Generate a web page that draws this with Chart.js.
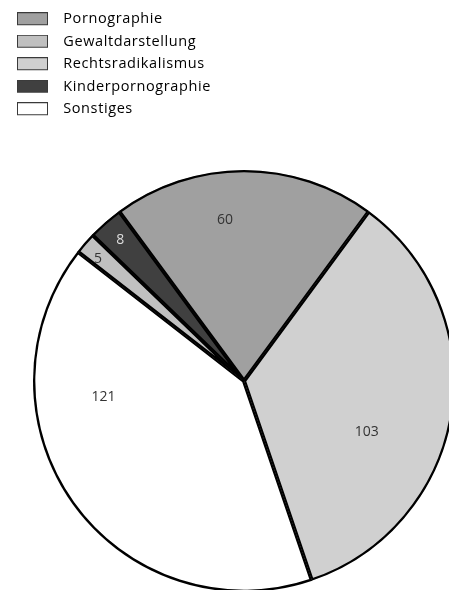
<!DOCTYPE html>
<html>
<head>
<meta charset="utf-8">
<script src="https://cdn.jsdelivr.net/npm/chart.js@4.4.1/dist/chart.umd.min.js"></script>
<style>
  html, body { margin: 0; padding: 0; background: #fff; overflow: hidden; }
  #wrap { position: relative; width: 449px; height: 590px; }
</style>
</head>
<body>
<div id="wrap"><canvas id="pie"></canvas></div>
<script>
// Slices, clockwise from the top
const categories = ['Pornographie', 'Rechtsradikalismus', 'Sonstiges', 'Gewaltdarstellung', 'Kinderpornographie'];
const counts = [60, 103, 121, 5, 8];
// Order of the legend rows
const legendOrder = ['Pornographie', 'Gewaltdarstellung', 'Rechtsradikalismus', 'Kinderpornographie', 'Sonstiges'];

const fillFor = {
  'Pornographie': '#a0a0a0',
  'Gewaltdarstellung': '#c0c0c0',
  'Rechtsradikalismus': '#d0d0d0',
  'Kinderpornographie': '#404040',
  'Sonstiges': '#ffffff'
};
const labelColorFor = { 'Kinderpornographie': '#dddddd' };

const total = counts.reduce((a, b) => a + b, 0);

// Legend swatch: 31x13 box, drawn left-aligned in a wider tile so the text sits further right
const TILE_W = 39;
function swatch(color) {
  const c = document.createElement('canvas');
  c.width = TILE_W; c.height = 14;
  const g = c.getContext('2d');
  g.fillStyle = color;
  g.fillRect(0, 0, 31, 13);
  g.strokeStyle = '#3a3a3a';
  g.lineWidth = 1;
  g.strokeRect(0.5, 0.5, 30, 12);
  return c;
}

// Slightly tracked-out legend text
const legendTracking = {
  id: 'legendTracking',
  beforeLayout(chart) { chart.ctx.letterSpacing = '0.6px'; },
  afterLayout(chart) { chart.ctx.letterSpacing = '0px'; },
  beforeDraw(chart) { chart.ctx.letterSpacing = '0.6px'; },
  beforeDatasetsDraw(chart) { chart.ctx.letterSpacing = '0px'; }
};

// Pin the pie's bounding square
const placePie = {
  id: 'placePie',
  afterLayout(chart, args, opts) {
    const r = opts.radius;
    chart.chartArea = {
      left: opts.cx - r, top: opts.cy - r,
      right: opts.cx + r, bottom: opts.cy + r,
      width: 2 * r, height: 2 * r
    };
  }
};

// Value labels inside the slices
const sliceLabels = {
  id: 'sliceLabels',
  afterDatasetsDraw(chart, args, opts) {
    const ctx = chart.ctx;
    const meta = chart.getDatasetMeta(0);
    ctx.save();
    ctx.font = opts.font;
    ctx.textAlign = 'center';
    ctx.textBaseline = 'middle';
    meta.data.forEach((arc, i) => {
      const mid = (arc.startAngle + arc.endAngle) / 2 + (opts.angleShift[i] || 0) * Math.PI / 180;
      const r = arc.outerRadius * opts.radialPos[i];
      ctx.fillStyle = labelColorFor[categories[i]] || opts.color;
      ctx.fillText(String(counts[i]), arc.x + Math.cos(mid) * r, arc.y + Math.sin(mid) * r);
    });
    ctx.restore();
  }
};

new Chart(document.getElementById('pie'), {
  type: 'pie',
  data: {
    labels: categories,
    datasets: [{
      data: counts,
      backgroundColor: categories.map(c => fillFor[c]),
      borderColor: '#000',
      borderWidth: 2,
      borderAlign: 'inner',
      radius: 211
    }]
  },
  options: {
    responsive: true,
    maintainAspectRatio: false,
    animation: false,
    rotation: -(counts[0] / total) * 180,
    layout: { padding: { left: 9, top: 4 } },
    plugins: {
      tooltip: { enabled: false },
      placePie: { cx: 244, cy: 381, radius: 211 },
      sliceLabels: {
        font: '14px "Open Sans", "Noto Sans", sans-serif',
        color: '#333',
        radialPos: [0.77, 0.63, 0.67, 0.9, 0.89],
        angleShift: [-6.7, 13.9, 29, -1.1, 0]
      },
      legend: {
        position: 'left',
        align: 'start',
        onClick: null,
        labels: {
          usePointStyle: true,
          pointStyleWidth: TILE_W,
          boxHeight: 14,
          padding: 8,
          color: '#222',
          font: { family: '"Open Sans", "Noto Sans", sans-serif', size: 14.5 },
          generateLabels() {
            return legendOrder.map(name => ({
              text: name,
              pointStyle: swatch(fillFor[name]),
              fillStyle: fillFor[name],
              strokeStyle: '#3a3a3a',
              lineWidth: 1,
              hidden: false,
              index: categories.indexOf(name)
            }));
          }
        }
      }
    }
  },
  plugins: [legendTracking, placePie, sliceLabels]
});
</script>
</body>
</html>
